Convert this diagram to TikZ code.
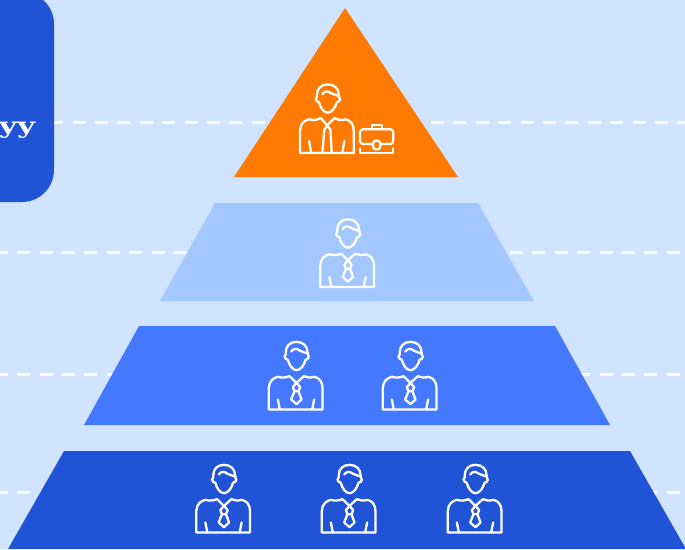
\documentclass[tikz,border=0pt]{standalone}
\usepackage{fontspec}
\newfontfamily\labelfont{DejaVu Serif}[BoldFont={DejaVu Serif Bold}]
\definecolor{bgc}{HTML}{D0E3FF}
\definecolor{darkb}{HTML}{2153D6}
\definecolor{midb}{HTML}{4478FF}
\definecolor{lightb}{HTML}{A3C8FF}
\definecolor{orangec}{HTML}{FF7A00}
\tikzset{
  guide/.style={white,line width=3pt,dash pattern=on 13pt off 9.4pt},
  iconline/.style={white,line width=2.3pt,line join=round,line cap=round,x=0.3333pt,y=-0.3333pt,fill=none},
  head/.pic={
    \draw[iconline,shift={(-125,-245)}]
      (128,42) .. controls (108,42) and (96,55) .. (96,72)
      .. controls (96,78) and (96,82) .. (92,86) .. controls (92,92) and (98,94) .. (102,96)
      .. controls (106,112) and (116,127) .. (128,127)
      .. controls (140,127) and (151,112) .. (155,96)
      .. controls (160,94) and (166,92) .. (165,86) .. controls (162,82) and (161,78) .. (161,72)
      .. controls (161,55) and (148,42) .. (128,42);
    \draw[iconline,shift={(-125,-245)}]
      (112,71) .. controls (120,60) and (130,62) .. (137,68) .. controls (145,73) and (155,74) .. (163,77);
  },
  personpic/.pic={
    \pic {head};
    \draw[iconline,shift={(-125,-245)}]
      (45,245) -- (45,180) .. controls (46,160) and (58,150) .. (72,147)
      .. controls (84,150) and (95,150) .. (107,145) -- (128,165) -- (150,145)
      .. controls (160,150) and (170,150) .. (182,147)
      .. controls (196,150) and (206,162) .. (206,180) -- (206,245) -- cycle;
    \draw[iconline,shift={(-125,-245)}] (72,215) -- (78,245) (181,215) -- (175,245);
    \draw[iconline,shift={(-125,-245)}]
      (128,165) -- (117,178) -- (122,190) -- (112,215) -- (128,229) -- (143,215) -- (134,190) -- (139,178) -- cycle
      (122,190) -- (134,190);
  },
  bosspic/.pic={
    \pic {head};
    \draw[iconline,shift={(-125,-245)}]
      (45,245) -- (45,180) .. controls (46,160) and (58,150) .. (72,147)
      .. controls (84,150) and (95,150) .. (107,143) -- (126,165) -- (148,143)
      .. controls (160,150) and (170,150) .. (182,147)
      .. controls (196,150) and (206,162) .. (206,180) -- (206,248) -- (45,248) -- cycle;
    \draw[iconline,shift={(-125,-245)}] (72,212) -- (78,245) (178,212) -- (172,245);
    \draw[iconline,shift={(-125,-245)}]
      (126,165) -- (118,178) -- (112,245) (126,165) -- (136,178) -- (140,245);
  },
  casepic/.pic={
    \draw[iconline,rounded corners=3pt]
      (225,222) -- (225,178) -- (325,178) -- (325,222) -- cycle;
    \draw[iconline] (262,176) -- (262,166) -- (290,166) -- (290,176);
    \draw[iconline] (225,235) -- (225,250) -- (325,250) -- (325,235);
    \draw[iconline,fill=orangec,rounded corners=3pt] (264,212) rectangle (286,238);
  }
}
\begin{document}
\begin{tikzpicture}[x=1pt,y=-1pt]
\useasboundingbox (0,0) rectangle (685,549);
\clip (0,0) rectangle (685,549);
\fill[bgc] (0,0) rectangle (685,549);
\draw[guide] (-17,122) -- (700,122);
\draw[guide] (-5.2,252) -- (700,252);
\draw[guide] (-5.2,374) -- (700,374);
\draw[guide] (-5.2,492) -- (700,492);
\fill[darkb,rounded corners=32pt] (-60,-8) rectangle (54,202);
\node[anchor=base east,inner sep=0pt,text=white,xscale=1.42,font=\labelfont\bfseries\fontsize{22}{26}\selectfont] (label) at (35.5,133) {yy};
\fill[orangec] (345,8) -- (458,177) -- (234,177) -- cycle;
\fill[lightb] (215,203) -- (478,203) -- (534,301) -- (160,301) -- cycle;
\fill[midb] (139,326) -- (555,326) -- (610,425) -- (84,425) -- cycle;
\fill[darkb] (64,451) -- (630,451) -- (686,549) -- (8,549) -- cycle;
\pic at (326.7,152) {bosspic};
\pic[shift={(285,70)}] at (0,0) {casepic};
\pic at (347,287) {personpic};
\pic at (295.5,409.5) {personpic};
\pic at (409.5,409.5) {personpic};
\pic at (223,532.5) {personpic};
\pic at (348.5,532.5) {personpic};
\pic at (474.5,532.5) {personpic};
\end{tikzpicture}
\end{document}
